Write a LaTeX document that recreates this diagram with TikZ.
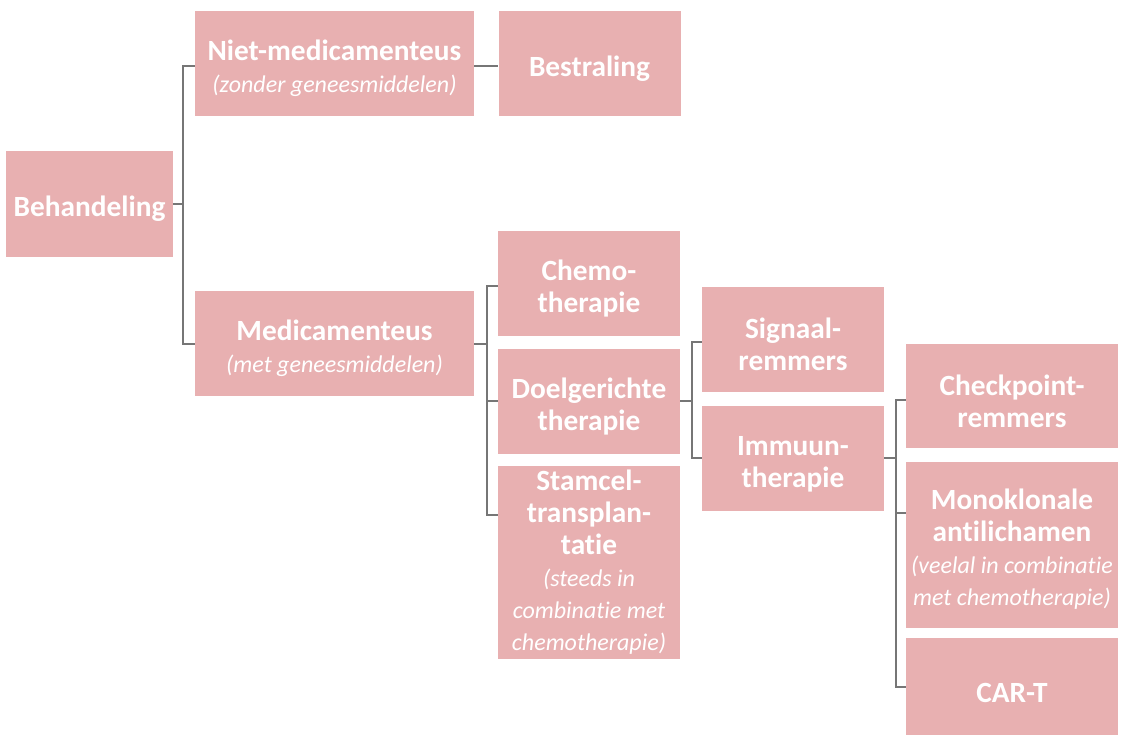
\documentclass[tikz,border=0pt]{standalone}
\usepackage{fontspec}
\setmainfont{Carlito}[Ligatures=NoCommon]
\usepackage{tikz}
\usetikzlibrary{
    positioning
}
\definecolor{BoxPink}{RGB}{232,176,177}
\definecolor{LineGray}{RGB}{118,118,118}
\newcommand{\aside}[1]{{\mdseries\itshape\fontsize{18}{23}\selectfont #1}}
\newcommand{\lift}{\rule{0pt}{23pt}}

\begin{document}
\begin{tikzpicture}[
    x=0.75pt, y=-0.75pt,
    box/.style={rectangle, fill=BoxPink, text=white, align=center, inner sep=2pt, font=\bfseries\fontsize{22}{24}\selectfont, minimum width=136.5pt, minimum height=78.75pt},
    wide/.style={minimum width=209.25pt},
    rel/.style={line width=1.5pt, color=LineGray},
]
\useasboundingbox (0,0) rectangle (1122,735);

\node[box, minimum width=125.25pt, minimum height=79.5pt] (beh) at (89.5,204) {\lift Behandeling};

\node[box, wide] (niet) at (334.5,63.5) {%
  \lift Niet-medicamenteus\\
  \aside{(zonder geneesmiddelen)}};

\node[box, right=18pt of niet] (bestr) {\lift Bestraling};

\node[box, wide] (med) at (334.5,343.5) {%
  \lift Medicamenteus\\
  \aside{(met geneesmiddelen)}};

\node[box] (chemo) at (589,283.5) {\lift Chemo-\\therapie};

\node[box, below=9pt of chemo] (doel) {\lift Doelgerichte\\therapie};

\node[box, below=9pt of doel, minimum height=144.75pt, inner ysep=0pt] (stam) {%
  Stamcel-\\
  transplan-\\
  tatie\\
  \aside{(steeds in}\\
  \aside{combinatie met}\\
  \aside{chemotherapie)}};

\node[box] (sig) at (793,339.5) {\lift Signaal-\\remmers};

\node[box, below=9.75pt of sig] (imm) {\lift Immuun-\\therapie};

\node[box, minimum width=159pt, minimum height=78pt] (check) at (1012,396) {\lift Checkpoint-\\remmers};

\node[box, below=9.75pt of check, minimum width=159pt, minimum height=124.5pt] (mono) {%
  \lift Monoklonale\\
  antilichamen\\
  \aside{(veelal in combinatie}\\
  \aside{met chemotherapie)}};

\node[box, below=7.5pt of mono, minimum width=159pt, minimum height=73.5pt] (cart) {\lift CAR-T};

% relations
\draw[rel] (beh.east) -- ++(10,0) |- ([yshift=-2pt]niet.west);
\draw[rel] (beh.east) -- ++(10,0) |- (med.west);
\draw[rel] ([yshift=-2pt]niet.east) -- ([yshift=-2pt]bestr.west);
\draw[rel] (med.east) -- ++(13,0) |- ([yshift=-2pt]chemo.west);
\draw[rel] (med.east) -- ++(13,0) |- (doel.west);
\draw[rel] (med.east) -- ++(13,0) |- ([yshift=-37pt]stam.north west);
\draw[rel] (doel.east) -- ++(12,0) |- ([yshift=-2pt]sig.west);
\draw[rel] (doel.east) -- ++(12,0) |- (imm.west);
\draw[rel] (imm.east) -- ++(12,0) |- ([yshift=-3pt]check.west);
\draw[rel] (imm.east) -- ++(12,0) |- ([yshift=-39pt]mono.north west);
\draw[rel] (imm.east) -- ++(12,0) |- (cart.west);
\end{tikzpicture}
\end{document}
